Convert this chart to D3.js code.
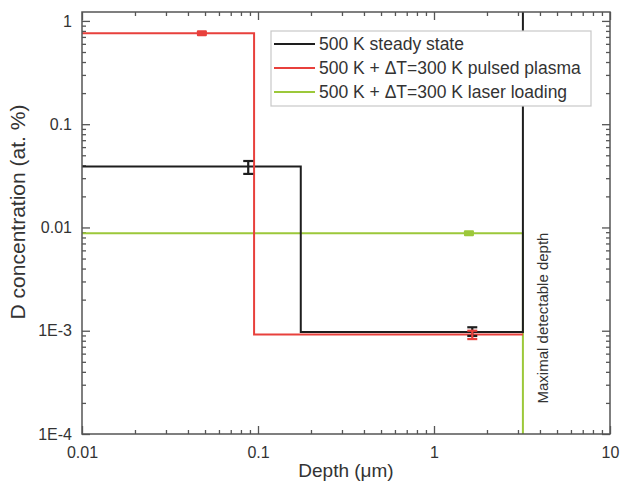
<!DOCTYPE html>
<html><head><meta charset="utf-8">
<script src="https://cdn.jsdelivr.net/npm/d3@7"></script>
<style>
html,body{margin:0;padding:0;background:#fff;}
text{font-family:"Liberation Sans",Arial,sans-serif;fill:#333;}
</style></head>
<body><svg id="c" width="624" height="490"></svg>
<script>
// ---- data ----
const xTickValues = [0.01, 0.1, 1, 10];
const xTickLabels = ["0.01", "0.1", "1", "10"];
const yTickValues = [1e-4, 1e-3, 0.01, 0.1, 1];
const yTickLabels = ["1E-4", "1E-3", "0.01", "0.1", "1"];
const xDomain = [0.01, 10];
const yDomain = [1e-4, 1.22];

const seriesNames = ["500 K steady state", "500 K + \u0394T=300 K pulsed plasma", "500 K + \u0394T=300 K laser loading"];
const seriesColors = ["#1e1e1e", "#e8403c", "#9cc83a"];

const steadyDepth = [0.01, 0.175, 0.175, 3.2, 3.2];
const steadyConc  = [0.039, 0.039, 0.00097, 0.00097, 1.22];
const plasmaDepth = [0.01, 0.095, 0.095, 3.2];
const plasmaConc  = [0.76, 0.76, 0.00092, 0.00092];
const laserDepth  = [0.01, 3.2, 3.2];
const laserConc   = [0.0088, 0.0088, 1e-4];

// error bars: depth, value, low, high, series index
const errDepth = [0.088, 1.65, 1.65];
const errValue = [0.039, 0.00099, 0.00092];
const errLow   = [0.033, 0.00089, 0.00083];
const errHigh  = [0.044, 0.00108, 0.00100];
const errSeries = [0, 0, 1];

// single markers: depth, value, series index
const markDepth = [0.048, 1.58];
const markValue = [0.76, 0.0088];
const markSeries = [1, 2];

const annotation = "Maximal detectable depth";
const xTitle = "Depth (\u03bcm)";
const yTitle = "D concentration (at. %)";

// ---- chart ----
const L = 82, R = 610, T = 12, B = 434;
const svg = d3.select("#c");
const x = d3.scaleLog().domain(xDomain).range([L, R]);
const y = d3.scaleLog().domain(yDomain).range([B, T]);

function minors(lo, hi) {
  const out = [];
  for (let e = Math.floor(Math.log10(lo)); e <= Math.ceil(Math.log10(hi)); e++) {
    for (let k = 2; k <= 9; k++) {
      const v = k * Math.pow(10, e);
      if (v > lo && v < hi) out.push(v);
    }
  }
  return out;
}
const xMinor = minors(xDomain[0], xDomain[1]);
const yMinor = minors(yDomain[0], yDomain[1]);

const axisColor = "#555";
function styleAxis(g) {
  g.select(".domain").remove();
  g.selectAll(".tick line").attr("stroke", axisColor).attr("stroke-width", 1.3);
  g.selectAll(".tick text").attr("font-size", 16).attr("fill", "#333")
    .style("font-family", '"Liberation Sans",Arial,sans-serif');
}

// Bottom
svg.append("g").attr("transform", `translate(0,${B})`)
  .call(d3.axisBottom(x).tickValues(xTickValues).tickSize(-8).tickPadding(13)
    .tickFormat((d, i) => xTickLabels[i])).call(styleAxis);
svg.append("g").attr("transform", `translate(0,${B})`)
  .call(d3.axisBottom(x).tickValues(xMinor).tickSize(-4).tickFormat("")).call(styleAxis);
// Top
svg.append("g").attr("transform", `translate(0,${T})`)
  .call(d3.axisTop(x).tickValues(xTickValues).tickSize(-8).tickFormat("")).call(styleAxis);
svg.append("g").attr("transform", `translate(0,${T})`)
  .call(d3.axisTop(x).tickValues(xMinor).tickSize(-4).tickFormat("")).call(styleAxis);
// Left
svg.append("g").attr("transform", `translate(${L},0)`)
  .call(d3.axisLeft(y).tickValues(yTickValues).tickSize(-8).tickPadding(10)
    .tickFormat((d, i) => yTickLabels[i])).call(styleAxis);
svg.append("g").attr("transform", `translate(${L},0)`)
  .call(d3.axisLeft(y).tickValues(yMinor).tickSize(-4).tickFormat("")).call(styleAxis);
// Right
svg.append("g").attr("transform", `translate(${R},0)`)
  .call(d3.axisRight(y).tickValues(yTickValues).tickSize(-8).tickFormat("")).call(styleAxis);
svg.append("g").attr("transform", `translate(${R},0)`)
  .call(d3.axisRight(y).tickValues(yMinor).tickSize(-4).tickFormat("")).call(styleAxis);

// clip
svg.append("defs").append("clipPath").attr("id", "clip")
  .append("rect").attr("x", L).attr("y", T).attr("width", R - L).attr("height", B - T);

const plot = svg.append("g").attr("clip-path", "url(#clip)");
const line = d3.line().x(d => x(d[0])).y(d => y(d[1]));
const series = [
  d3.zip(steadyDepth, steadyConc),
  d3.zip(plasmaDepth, plasmaConc),
  d3.zip(laserDepth, laserConc)
];
[2, 0, 1].forEach(i => {
  plot.append("path").datum(series[i]).attr("d", line)
    .attr("fill", "none").attr("stroke", seriesColors[i]).attr("stroke-width", 2);
});

// markers
markDepth.forEach((d, i) => {
  plot.append("rect").attr("x", x(d) - 5).attr("y", y(markValue[i]) - 3)
    .attr("width", 10).attr("height", 6).attr("rx", 1)
    .attr("fill", seriesColors[markSeries[i]]);
});

// error bars
errDepth.forEach((d, i) => {
  const c = seriesColors[errSeries[i]];
  const g = plot.append("g").attr("stroke", c).attr("stroke-width", 2.2);
  const cx = x(d);
  g.append("line").attr("x1", cx).attr("x2", cx).attr("y1", y(errLow[i])).attr("y2", y(errHigh[i]));
  g.append("line").attr("x1", cx - 5).attr("x2", cx + 5).attr("y1", y(errLow[i])).attr("y2", y(errLow[i]));
  g.append("line").attr("x1", cx - 5).attr("x2", cx + 5).attr("y1", y(errHigh[i])).attr("y2", y(errHigh[i]));
});

// frame
svg.append("rect").attr("x", L).attr("y", T).attr("width", R - L).attr("height", B - T)
  .attr("fill", "none").attr("stroke", axisColor).attr("stroke-width", 1.5);

// legend
const lg = svg.append("g");
lg.append("rect").attr("x", 271).attr("y", 31).attr("width", 320).attr("height", 75)
  .attr("fill", "#fff").attr("stroke", "#c8c8c8").attr("stroke-width", 1.2);
seriesNames.forEach((n, i) => {
  const cy = 44 + i * 24;
  lg.append("line").attr("x1", 274).attr("x2", 315).attr("y1", cy).attr("y2", cy)
    .attr("stroke", seriesColors[i]).attr("stroke-width", 2);
  lg.append("text").attr("x", 319).attr("y", cy).attr("dy", "0.35em")
    .attr("font-size", 17.5).text(n);
});

// annotation
svg.append("text").attr("transform", "translate(548,318) rotate(-90)")
  .attr("text-anchor", "middle").attr("font-size", 15).text(annotation);

// titles
svg.append("text").attr("x", (L + R) / 2).attr("y", 477).attr("text-anchor", "middle")
  .attr("font-size", 19).text(xTitle);
svg.append("text").attr("transform", "translate(25,212) rotate(-90)")
  .attr("text-anchor", "middle").attr("font-size", 21).text(yTitle);
</script></body></html>
